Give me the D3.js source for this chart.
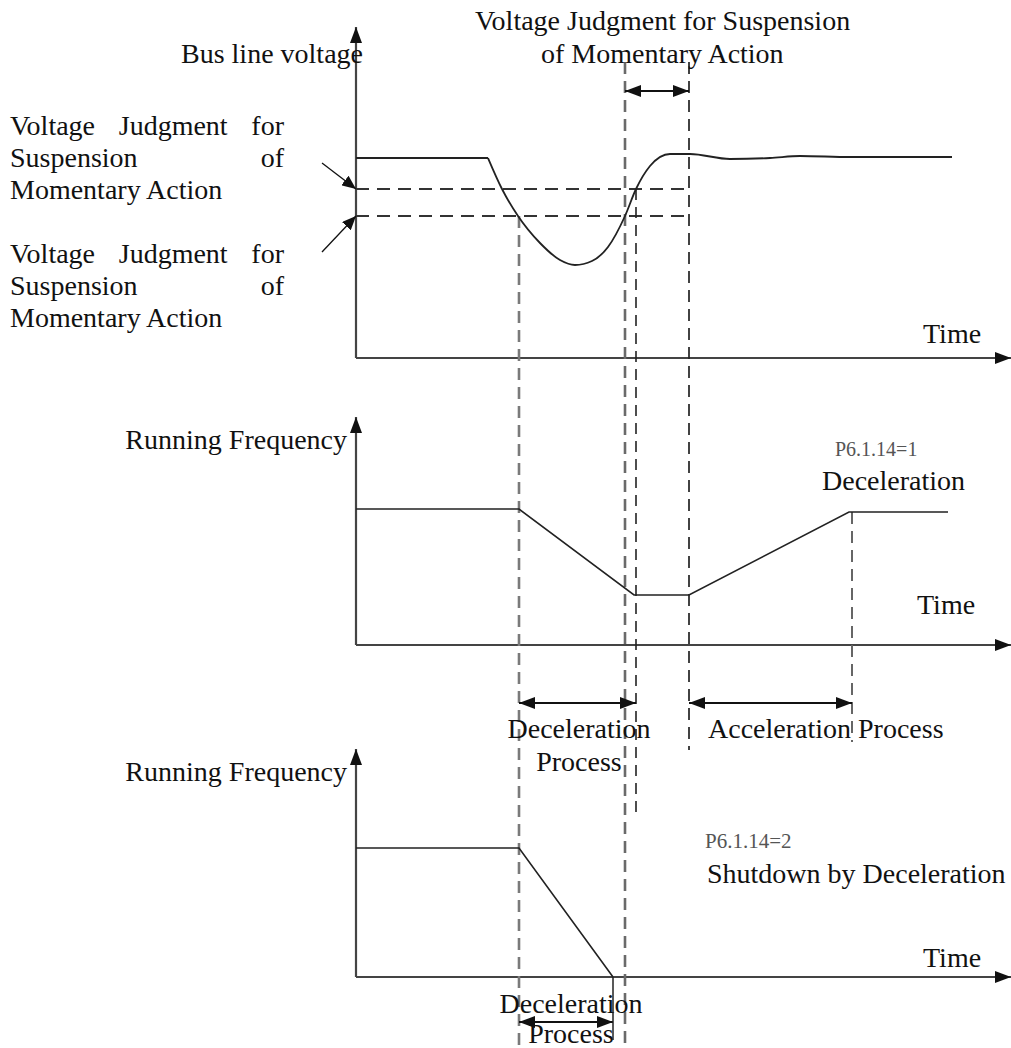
<!DOCTYPE html>
<html><head><meta charset="utf-8">
<script src="https://cdn.jsdelivr.net/npm/d3@7"></script>
<style>html,body{margin:0;padding:0;background:#fff;} svg{display:block;}</style>
</head><body>
<script>
// ---------- data (time units, panel value units) ----------
const timeDomain = [0, 131];
// bus voltage curve (after the sag starts it is smooth)
const voltageFlatT = [0, 26.4];
const voltageFlatV = [100, 100];
const voltageCurveT = [26.4, 29.2, 32.4, 36.8, 40.8, 43.8, 47.2, 50.4, 53.8, 56, 58.8, 62.8, 66.8, 74.8, 82.8, 88.8, 98.8, 119.2];
const voltageCurveV = [100, 84.5, 71, 57.5, 49, 46.5, 48.5, 55.5, 71, 84.5, 96, 102, 102, 99.5, 100, 101, 100.5, 100.5];
// judgment thresholds (two dashed horizontal levels)
const thresholdV = [84.5, 71];
const thresholdEndT = 65.6;
// running frequency, P6.1.14=1
const freqMidT = [0, 32.6, 55.6, 66.6, 98.6, 118.4];
const freqMidF = [68, 68, 25, 25, 66.5, 66.5];
// running frequency, P6.1.14=2
const freqBotT = [0, 32.6, 51.4];
const freqBotF = [64.5, 64.5, 0];
// event times for guide lines
const guideT = [32.6, 53.8, 56, 66.6, 99.2];

const W = 1011, H = 1048;
const FONT = "'Liberation Serif','Times New Roman',serif";
const FS = 28;

const svg = d3.select("body").append("svg").attr("width", W).attr("height", H);
const defs = svg.append("defs");
function marker(id, len, half, color) {
  defs.append("marker").attr("id", id).attr("viewBox", `0 ${-half} ${len} ${2*half}`)
    .attr("refX", len).attr("refY", 0).attr("markerWidth", len).attr("markerHeight", 2*half)
    .attr("markerUnits", "userSpaceOnUse").attr("orient", "auto-start-reverse")
    .append("path").attr("d", `M0,${-half}L${len},0L0,${half}Z`).attr("fill", color);
}
marker("axArrow", 16, 6, "#111");
marker("dimArrow", 16, 6, "#111");
marker("ptArrow", 14, 6, "#111");

const x = d3.scaleLinear().domain(timeDomain).range([356, 1011]);
const yTop = d3.scaleLinear().domain([0, 165.5]).range([358, 27]);
const yMid = d3.scaleLinear().domain([0, 114]).range([645, 417]);
const yBot = d3.scaleLinear().domain([0, 114]).range([977, 749]);

// ---------- axes ----------
function axes(y) {
  const [y0, y1] = y.range();
  svg.append("line").attr("x1", x(0)).attr("y1", y0).attr("x2", x(0)).attr("y2", y1)
    .attr("stroke", "#444").attr("stroke-width", 2.2).attr("marker-end", "url(#axArrow)");
  svg.append("line").attr("x1", x(0)).attr("y1", y0).attr("x2", x.range()[1]).attr("y2", y0)
    .attr("stroke", "#444").attr("stroke-width", 2.2).attr("marker-end", "url(#axArrow)");
}
axes(yTop); axes(yMid); axes(yBot);

// ---------- guide lines ----------
const dashG = svg.append("g").attr("fill", "none");
function vguide(t, ya, yb, color, w, dash) {
  dashG.append("line").attr("x1", x(t)).attr("x2", x(t)).attr("y1", ya).attr("y2", yb)
    .attr("stroke", color).attr("stroke-width", w).attr("stroke-dasharray", dash);
}
thresholdV.forEach(v => {
  dashG.append("line").attr("x1", x(0)).attr("x2", x(thresholdEndT))
    .attr("y1", yTop(v)).attr("y2", yTop(v))
    .attr("stroke", "#333").attr("stroke-width", 2).attr("stroke-dasharray", "13,8");
});
vguide(guideT[0], yTop(thresholdV[1]), H, "#7a7a7a", 2.6, "12,7");
vguide(guideT[1], 62, H, "#6a6a6a", 2.6, "12,7");
vguide(guideT[2], yTop(thresholdV[0]), 815, "#222", 1.6, "11,7");
vguide(guideT[3], 62, 750, "#222", 1.7, "12,7");
vguide(guideT[4], yMid(freqMidF[4]), 742, "#666", 2, "12,7");

// ---------- curves ----------
const lineGen = (y, curve) => d3.line().x(d => x(d[0])).y(d => y(d[1])).curve(curve);
const zip = (a, b) => a.map((v, i) => [v, b[i]]);
svg.append("path").datum(zip(voltageFlatT, voltageFlatV)).attr("d", lineGen(yTop, d3.curveLinear))
  .attr("fill", "none").attr("stroke", "#222").attr("stroke-width", 1.8);
svg.append("path").datum(zip(voltageCurveT, voltageCurveV)).attr("d", lineGen(yTop, d3.curveMonotoneX))
  .attr("fill", "none").attr("stroke", "#222").attr("stroke-width", 1.8);
svg.append("path").datum(zip(freqMidT, freqMidF)).attr("d", lineGen(yMid, d3.curveLinear))
  .attr("fill", "none").attr("stroke", "#222").attr("stroke-width", 1.6);
svg.append("path").datum(zip(freqBotT, freqBotF)).attr("d", lineGen(yBot, d3.curveLinear))
  .attr("fill", "none").attr("stroke", "#222").attr("stroke-width", 1.6);

// ---------- dimension arrows ----------
function dim(t1, t2, yy) {
  svg.append("line").attr("x1", x(t1)).attr("x2", x(t2)).attr("y1", yy).attr("y2", yy)
    .attr("stroke", "#111").attr("stroke-width", 1.8)
    .attr("marker-start", "url(#dimArrow)").attr("marker-end", "url(#dimArrow)");
}
dim(guideT[1], guideT[3], 91);
dim(guideT[0], guideT[2], 703);
dim(guideT[3], guideT[4], 703);
dim(guideT[0], freqBotT[2], 1022);
svg.append("line").attr("x1", x(freqBotT[2])).attr("x2", x(freqBotT[2])).attr("y1", yBot(0)).attr("y2", 1040)
  .attr("stroke", "#222").attr("stroke-width", 1.5);

// threshold pointer arrows
svg.append("line").attr("x1", 322).attr("y1", 163).attr("x2", x(0)).attr("y2", yTop(thresholdV[0]))
  .attr("stroke", "#111").attr("stroke-width", 1.3).attr("marker-end", "url(#ptArrow)");
svg.append("line").attr("x1", 322).attr("y1", 252).attr("x2", x(0)).attr("y2", yTop(thresholdV[1]))
  .attr("stroke", "#111").attr("stroke-width", 1.3).attr("marker-end", "url(#ptArrow)");

// ---------- text ----------
function txt(s, tx, ty, anchor = "start", size = FS, fill = "#111") {
  return svg.append("text").attr("x", tx).attr("y", ty).attr("text-anchor", anchor)
    .attr("font-family", FONT).attr("font-size", size).attr("fill", fill).text(s);
}
function justified(words, x0, x1, ty) {
  const nodes = words.map(w => txt(w, 0, ty));
  const widths = nodes.map(n => n.node().getComputedTextLength());
  const gap = (x1 - x0 - d3.sum(widths)) / (words.length - 1);
  let cx = x0;
  nodes.forEach((n, i) => { n.attr("x", cx); cx += widths[i] + gap; });
}
const leftBlocks = [135, 263];
leftBlocks.forEach(b => {
  justified(["Voltage", "Judgment", "for"], 10, 284, b);
  justified(["Suspension", "of"], 10, 284, b + 32);
  txt("Momentary Action", 10, b + 64);
});

txt("Bus line voltage", 363, 63, "end");
txt("Voltage Judgment for Suspension", 475, 30);
txt("of Momentary Action", 541, 63);
txt("Time", 923, 343);
txt("Running Frequency", 347, 449, "end");
txt("P6.1.14=1", 835, 456, "start", 20, "#555");
txt("Deceleration", 822, 490);
txt("Time", 917, 614);
txt("Deceleration", 579, 738, "middle");
txt("Process", 579, 771, "middle");
txt("Acceleration Process", 708, 738);
txt("Running Frequency", 347, 781, "end");
txt("P6.1.14=2", 705, 848, "start", 21, "#555");
txt("Shutdown by Deceleration", 707, 883);
txt("Time", 923, 967);
txt("Deceleration", 571, 1013, "middle");
txt("Process", 571, 1043, "middle");
</script>
</body></html>
